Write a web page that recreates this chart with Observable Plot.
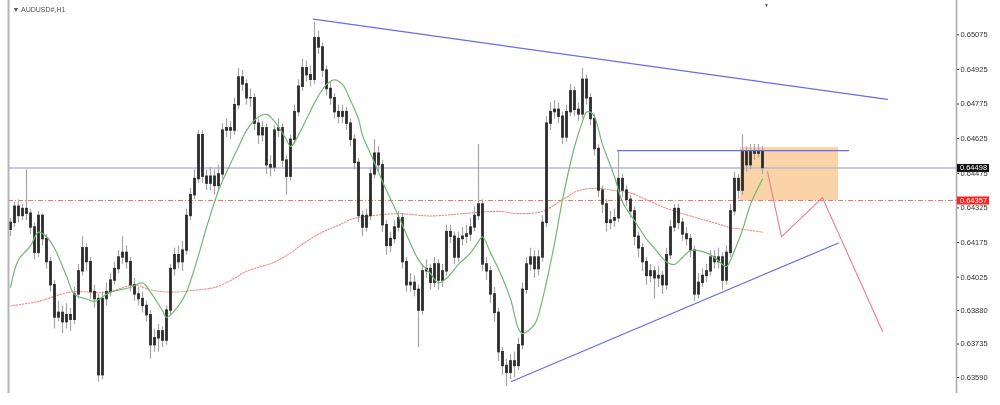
<!DOCTYPE html>
<html>
<head>
<meta charset="utf-8">
<script src="https://cdn.jsdelivr.net/npm/d3@7"></script>
<script src="https://cdn.jsdelivr.net/npm/@observablehq/plot@0.6"></script>
<style>
  html, body { margin: 0; padding: 0; background: #fff; }
  #chart svg { display: block; filter: blur(0.5px); }
</style>
</head>
<body>
<div id="chart"></div>
<script>
// ---- Data (AUDUSD#, H1) ----
const symbolTitle = "▼ AUDUSD#,H1";

const open = [
0.6423,0.6426,0.6433,0.6429,0.6432,0.6430,0.6424,0.6413,0.6429,0.6419,
0.6409,0.6399,0.6385,0.6387,0.6383,0.6386,0.6384,0.6395,0.6405,0.6415,
0.6409,0.6396,0.6393,0.6360,0.6393,0.6396,0.6401,0.6406,0.6411,0.6413,
0.6409,0.6399,0.6395,0.6393,0.6390,0.6386,0.6373,0.6376,0.6379,0.6375,
0.6388,0.6406,0.6412,0.6409,0.6414,0.6429,0.6438,0.6445,0.6464,0.6446,
0.6443,0.6446,0.6442,0.6447,0.6466,0.6467,0.6466,0.6477,0.6489,0.6486,
0.6480,0.6480,0.6469,0.6464,0.6467,0.6451,0.6450,0.6466,0.6467,0.6453,
0.6446,0.6462,0.6474,0.6485,0.6493,0.6490,0.6488,0.6506,0.6502,0.6492,
0.6484,0.6480,0.6474,0.6472,0.6474,0.6469,0.6462,0.6452,0.6429,0.6424,
0.6429,0.6447,0.6456,0.6451,0.6425,0.6416,0.6419,0.6424,0.6428,0.6409,
0.6399,0.6400,0.6397,0.6388,0.6405,0.6406,0.6400,0.6408,0.6401,0.6405,
0.6422,0.6420,0.6411,0.6419,0.6420,0.6421,0.6424,0.6429,0.6434,0.6408,
0.6405,0.6395,0.6387,0.6370,0.6364,0.6361,0.6366,0.6364,0.6373,0.6397,
0.6408,0.6411,0.6406,0.6411,0.6426,0.6469,0.6474,0.6475,0.6472,0.6463,
0.6474,0.6483,0.6475,0.6473,0.6488,0.6480,0.6471,0.6458,0.6440,0.6434,
0.6426,0.6427,0.6428,0.6445,0.6440,0.6436,0.6431,0.6420,0.6415,0.6409,
0.6403,0.6405,0.6402,0.6403,0.6399,0.6412,0.6424,0.6432,0.6426,0.6421,
0.6419,0.6414,0.6395,0.6400,0.6403,0.6405,0.6411,0.6409,0.6411,0.6401,
0.6413,0.6431,0.6445,0.6440,0.6457,0.6451,0.6457,0.6456,0.6457];

const high = [
0.6428,0.6435,0.6436,0.6434,0.6449,0.6432,0.6426,0.6431,0.6430,0.6421,
0.6411,0.6401,0.6392,0.6390,0.6391,0.6389,0.6398,0.6408,0.6420,0.6417,
0.6411,0.6399,0.6395,0.6396,0.6400,0.6404,0.6409,0.6414,0.6420,0.6416,
0.6411,0.6402,0.6398,0.6396,0.6392,0.6388,0.6380,0.6382,0.6381,0.6390,
0.6408,0.6415,0.6416,0.6418,0.6432,0.6441,0.6449,0.6466,0.6466,0.6449,
0.6450,0.6449,0.6451,0.6469,0.6471,0.6470,0.6480,0.6493,0.6492,0.6488,
0.6484,0.6482,0.6471,0.6470,0.6469,0.6455,0.6468,0.6471,0.6469,0.6455,
0.6464,0.6477,0.6488,0.6497,0.6496,0.6494,0.6513,0.6509,0.6504,0.6494,
0.6487,0.6482,0.6477,0.6477,0.6476,0.6471,0.6464,0.6454,0.6431,0.6432,
0.6450,0.6462,0.6459,0.6453,0.6427,0.6422,0.6427,0.6431,0.6430,0.6411,
0.6404,0.6403,0.6399,0.6408,0.6410,0.6408,0.6411,0.6410,0.6408,0.6425,
0.6425,0.6422,0.6422,0.6424,0.6425,0.6428,0.6433,0.6460,0.6436,0.6411,
0.6407,0.6398,0.6389,0.6372,0.6367,0.6369,0.6370,0.6376,0.6400,0.6411,
0.6415,0.6414,0.6414,0.6429,0.6472,0.6478,0.6479,0.6478,0.6474,0.6477,
0.6486,0.6485,0.6478,0.6493,0.6490,0.6482,0.6473,0.6460,0.6442,0.6436,
0.6431,0.6432,0.6457,0.6447,0.6442,0.6438,0.6433,0.6422,0.6417,0.6411,
0.6408,0.6407,0.6407,0.6405,0.6415,0.6427,0.6434,0.6434,0.6428,0.6424,
0.6421,0.6416,0.6404,0.6406,0.6408,0.6414,0.6414,0.6415,0.6413,0.6416,
0.6434,0.6448,0.6447,0.6464,0.6459,0.6460,0.6460,0.6460,0.6459];

const low = [
0.6420,0.6424,0.6426,0.6427,0.6427,0.6421,0.6410,0.6411,0.6416,0.6406,
0.6396,0.6380,0.6383,0.6378,0.6380,0.6379,0.6382,0.6393,0.6403,0.6405,
0.6393,0.6389,0.6357,0.6358,0.6390,0.6394,0.6399,0.6404,0.6408,0.6406,
0.6396,0.6392,0.6390,0.6387,0.6383,0.6367,0.6370,0.6370,0.6372,0.6373,
0.6386,0.6403,0.6406,0.6405,0.6412,0.6427,0.6436,0.6443,0.6443,0.6440,
0.6440,0.6438,0.6440,0.6445,0.6463,0.6462,0.6464,0.6475,0.6483,0.6477,
0.6476,0.6466,0.6460,0.6461,0.6447,0.6446,0.6448,0.6463,0.6450,0.6438,
0.6444,0.6460,0.6472,0.6483,0.6487,0.6485,0.6486,0.6499,0.6489,0.6481,
0.6477,0.6471,0.6469,0.6469,0.6466,0.6459,0.6449,0.6426,0.6420,0.6422,
0.6427,0.6445,0.6448,0.6422,0.6412,0.6413,0.6417,0.6422,0.6406,0.6396,
0.6396,0.6394,0.6372,0.6386,0.6402,0.6397,0.6398,0.6397,0.6398,0.6403,
0.6417,0.6408,0.6409,0.6416,0.6417,0.6418,0.6422,0.6427,0.6405,0.6401,
0.6391,0.6383,0.6366,0.6360,0.6355,0.6358,0.6359,0.6362,0.6371,0.6395,
0.6405,0.6402,0.6403,0.6409,0.6424,0.6466,0.6471,0.6469,0.6460,0.6461,
0.6472,0.6472,0.6470,0.6471,0.6477,0.6468,0.6455,0.6437,0.6430,0.6422,
0.6423,0.6424,0.6426,0.6437,0.6433,0.6428,0.6416,0.6411,0.6405,0.6399,
0.6400,0.6393,0.6398,0.6395,0.6397,0.6410,0.6422,0.6423,0.6418,0.6416,
0.6411,0.6392,0.6393,0.6398,0.6400,0.6403,0.6406,0.6406,0.6397,0.6399,
0.6411,0.6429,0.6436,0.6438,0.6448,0.6449,0.6453,0.6454,0.6447];

const close = [
0.6426,0.6433,0.6429,0.6432,0.6430,0.6424,0.6413,0.6429,0.6419,0.6409,
0.6399,0.6385,0.6387,0.6383,0.6386,0.6384,0.6395,0.6405,0.6415,0.6409,
0.6396,0.6393,0.6360,0.6393,0.6396,0.6401,0.6406,0.6411,0.6413,0.6409,
0.6399,0.6395,0.6393,0.6390,0.6386,0.6373,0.6376,0.6379,0.6375,0.6388,
0.6406,0.6412,0.6409,0.6414,0.6429,0.6438,0.6445,0.6464,0.6446,0.6443,
0.6446,0.6442,0.6447,0.6466,0.6467,0.6466,0.6477,0.6489,0.6486,0.6480,
0.6480,0.6469,0.6464,0.6467,0.6451,0.6450,0.6466,0.6467,0.6453,0.6446,
0.6462,0.6474,0.6485,0.6493,0.6490,0.6488,0.6506,0.6502,0.6492,0.6484,
0.6480,0.6474,0.6472,0.6474,0.6469,0.6462,0.6452,0.6429,0.6424,0.6429,
0.6447,0.6456,0.6451,0.6425,0.6416,0.6419,0.6424,0.6428,0.6409,0.6399,
0.6400,0.6397,0.6388,0.6405,0.6406,0.6400,0.6408,0.6401,0.6405,0.6422,
0.6420,0.6411,0.6419,0.6420,0.6421,0.6424,0.6429,0.6434,0.6408,0.6405,
0.6395,0.6387,0.6370,0.6364,0.6361,0.6366,0.6364,0.6373,0.6397,0.6408,
0.6411,0.6406,0.6411,0.6426,0.6469,0.6474,0.6475,0.6472,0.6463,0.6474,
0.6483,0.6475,0.6473,0.6488,0.6480,0.6471,0.6458,0.6440,0.6434,0.6426,
0.6427,0.6428,0.6445,0.6440,0.6436,0.6431,0.6420,0.6415,0.6409,0.6403,
0.6405,0.6402,0.6403,0.6399,0.6412,0.6424,0.6432,0.6426,0.6421,0.6419,
0.6414,0.6395,0.6400,0.6403,0.6405,0.6411,0.6409,0.6411,0.6401,0.6413,
0.6431,0.6445,0.6440,0.6457,0.6451,0.6457,0.6456,0.6457,0.64498];

// fast moving average (green), sampled at bar indices
const maFastBar = [0,2,5,7,9,11,14,16,19,21,25,30,33,35,38,39,42,44,47,49,52,54,57,59,62,64,66,69,70,71,74,76,79,81,83,85,87,88,90,92,94,97,99,102,105,107,109,112,115,117,118,120,122,125,127,128,131,133,136,138,141,143,144,145,146,148,151,153,156,159,161,164,166,168,170,174,176,178,179,181,183,185,188];
const maFastVal = [0.6398,0.6410,0.6416,0.6422,0.6420,0.6415,0.6403,0.6395,0.6393,0.6392,0.6396,0.6398,0.6400,0.6396,0.6388,0.6385,0.6390,0.6396,0.6412,0.6424,0.6440,0.6448,0.6459,0.6466,0.6472,0.6473,0.6470,0.6462,0.6459,0.6461,0.6471,0.6478,0.6486,0.6488,0.6486,0.6479,0.6471,0.6464,0.6456,0.6448,0.6440,0.6429,0.6421,0.6410,0.6404,0.6400,0.6402,0.6408,0.6413,0.6418,0.6420,0.6413,0.6406,0.6393,0.6380,0.6378,0.6382,0.6393,0.6417,0.6436,0.6459,0.6470,0.6474,0.6474,0.6472,0.6460,0.6446,0.6435,0.6427,0.6419,0.6415,0.6409,0.6408,0.6411,0.6414,0.6413,0.6411,0.6408,0.6407,0.6414,0.6423,0.6434,0.6445];

// slow moving average (red dotted)
const maSlowBar = [0,7,15,24,31,35,40,47,51,55,59,66,70,74,78,82,86,90,97,105,113,122,127,133,138,142,147,151,155,159,163,168,172,176,180,184,188];
const maSlowVal = [0.6390,0.6392,0.6396,0.6396,0.6399,0.6397,0.6396,0.6397,0.6398,0.6401,0.6405,0.6409,0.6413,0.6418,0.6422,0.6425,0.6428,0.6429,0.6430,0.6429,0.6430,0.6431,0.6430,0.6431,0.6436,0.6440,0.6441,0.6440,0.6439,0.6436,0.6433,0.6430,0.6428,0.6426,0.6424,0.6423,0.6422];

// drawn objects
const upperTrendBar = [75.75, 219.25];
const upperTrendVal = [0.65143, 0.64795];
const resistBar = [151.75, 209.5];
const resistVal = [0.64573, 0.64573];
const lowerTrendBar = [125.25, 207];
const lowerTrendVal = [0.63573, 0.64173];
const zoneBar = [182.5, 207];
const zoneVal = [0.64357, 0.64586];
const projBar = [189.25, 192.75, 203, 218];
const projVal = [0.64482, 0.64199, 0.64369, 0.6379];

const bidPrice = 0.64498;
const levelPrice = 0.64357;
const yTicks = [0.65075,0.64925,0.64775,0.64625,0.64475,0.64325,0.64175,0.64025,0.63880,0.63735,0.63590];

// ---- build tables ----
const candles = close.map((c, i) => ({i, o: open[i], h: high[i], l: low[i], c}));
const maFast = maFastBar.map((b, k) => ({b, v: maFastVal[k]}));
const maSlow = maSlowBar.map((b, k) => ({b, v: maSlowVal[k]}));
const upperTrend = upperTrendBar.map((b, k) => ({b, v: upperTrendVal[k]}));
const resist = resistBar.map((b, k) => ({b, v: resistVal[k]}));
const lowerTrend = lowerTrendBar.map((b, k) => ({b, v: lowerTrendVal[k]}));
const proj = projBar.map((b, k) => ({b, v: projVal[k]}));

const xDomain = [-0.5, 236.5];
const yDomain = [0.635207, 0.652236];
const boxX1 = xDomain[1] + 0.25, boxX2 = xDomain[1] + 8.25, boxXc = (boxX1 + boxX2) / 2;

const chart = Plot.plot({
  width: 1000,
  height: 405,
  marginLeft: 8,
  marginRight: 44,
  marginTop: 0,
  marginBottom: 12,
  style: {fontFamily: "'Liberation Sans', Arial, sans-serif", fontSize: "7.5px", color: "#333", background: "#fff"},
  x: {domain: xDomain, axis: null},
  y: {domain: yDomain, axis: "right", ticks: yTicks, tickFormat: d => d.toFixed(5), tickSize: 2, tickPadding: 2, label: null},
  marks: [
    // zone rectangle
    Plot.rect([0], {x1: () => zoneBar[0], x2: () => zoneBar[1], y1: () => zoneVal[0], y2: () => zoneVal[1], fill: "#fbd3a8"}),
    // price line and level
    Plot.ruleY([bidPrice], {stroke: "#b2bad0", strokeWidth: 1.4}),
    Plot.ruleY([levelPrice], {stroke: "#f47272", strokeWidth: 1, strokeDasharray: "5,2,1,2"}),
    // slow MA
    Plot.line(maSlow, {x: "b", y: "v", stroke: "#f08a8a", strokeWidth: 1.1, strokeDasharray: "1.5,1.5", curve: "catmull-rom"}),
    // candles
    Plot.ruleX(candles, {x: "i", y1: "l", y2: "h", stroke: "#a6a6a6", strokeWidth: 1.2}),
    Plot.ruleX(candles, {x: "i", y1: d => Math.min(d.o, d.c) - 0.00003, y2: d => Math.max(d.o, d.c) + 0.00003, stroke: "#2c2c2c", strokeWidth: 2.8}),
    // fast MA
    Plot.line(maFast, {x: "b", y: "v", stroke: "#72b872", strokeWidth: 1.2, curve: "catmull-rom"}),
    // trend lines
    Plot.line(upperTrend, {x: "b", y: "v", stroke: "#6a6aea", strokeWidth: 1.2}),
    Plot.line(resist, {x: "b", y: "v", stroke: "#6a6aea", strokeWidth: 1.2}),
    Plot.line(lowerTrend, {x: "b", y: "v", stroke: "#6a6aea", strokeWidth: 1.2}),
    // projection
    Plot.line(proj, {x: "b", y: "v", stroke: "#f07c8a", strokeWidth: 1.1}),
    // frame edges
    Plot.ruleX([xDomain[0]], {stroke: "#b4b4b4", strokeWidth: 2}),
    Plot.ruleX([xDomain[1]], {stroke: "#a8a8a8", strokeWidth: 1.5}),
    // price boxes on axis
    Plot.ruleY([bidPrice], {x1: boxX1, x2: boxX2, stroke: "#111", strokeWidth: 8}),
    Plot.text([bidPrice], {x: boxXc, y: d => d, text: d => d.toFixed(5), fill: "#fff", fontSize: 7.5}),
    Plot.ruleY([levelPrice], {x1: boxX1, x2: boxX2, stroke: "#ff2020", strokeWidth: 8}),
    Plot.text([levelPrice], {x: boxXc, y: d => d, text: d => d.toFixed(5), fill: "#fff", fontSize: 7.5}),
    // title and shift marker
    Plot.text([symbolTitle], {frameAnchor: "top-left", dx: 4, dy: 7, fontSize: 7, fill: "#555", textAnchor: "start"}),
    Plot.text(["▼"], {x: close.length, frameAnchor: "top", dy: 3, fontSize: 5, fill: "#555"})
  ]
});
document.getElementById("chart").appendChild(chart);
</script>
</body>
</html>
